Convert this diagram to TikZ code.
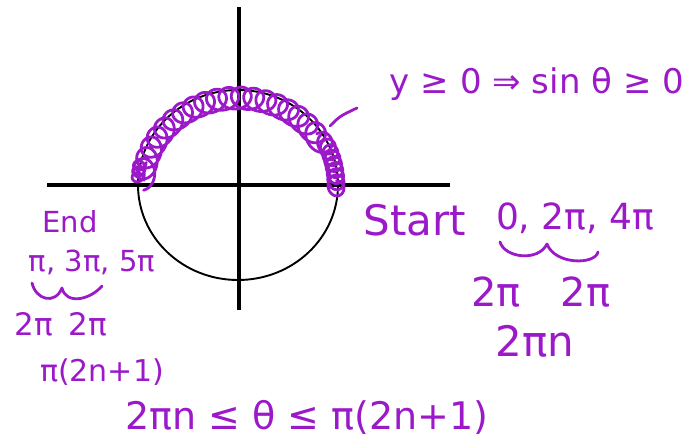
\documentclass[tikz,border=0pt]{standalone}
\usepackage{fontspec}
\setmainfont{DejaVu Sans}
\definecolor{ink}{RGB}{155,25,200}
\begin{document}
\begin{tikzpicture}[x=1pt,y=-1pt,
  hand/.style={text=ink,inner sep=0pt,anchor=center},
  axis/.style={line width=3.4pt,black},
  pen/.style={ink,line width=2.8pt,line cap=round,line join=round}]
\useasboundingbox (0,0) rectangle (695,445);
% axes and circle
\coordinate (O) at (238,185);
\coordinate (xl) at (47,185);
\coordinate (xr) at (450,185);
\coordinate (yt) at (239,7);
\coordinate (yb) at (239,310);
\draw[axis] (xl) -- (xr);
\draw[axis] (yt) -- (yb);
\draw[line width=1.9pt] (O) ellipse[x radius=100,y radius=95];
% coil along upper half: centre path + tangent/normal loops
% right dense part
\draw[pen] plot[domain=0:1,samples=300,smooth]
  ({238+98*cos(-3+30*\x)-9*cos(360*8*\x)*sin(-3+30*\x)+8*sin(360*8*\x)*cos(-3+30*\x)},
   {185-93*sin(-3+30*\x)-9*cos(360*8*\x)*cos(-3+30*\x)-8*sin(360*8*\x)*sin(-3+30*\x)});
% main part
\draw[pen] plot[domain=0:1,samples=700,smooth]
  ({238+95*cos(27+148*\x)-13*cos(360*20*\x)*sin(27+148*\x)+11*sin(360*20*\x)*cos(27+148*\x)},
   {185-87*sin(27+148*\x)-13*cos(360*20*\x)*cos(27+148*\x)-11*sin(360*20*\x)*sin(27+148*\x)});
% left dense end
\draw[pen] plot[domain=0:1,samples=120,smooth]
  ({237+99*cos(168+11*\x)+6*cos(360*3*\x)},{182-94*sin(168+11*\x)+6*sin(360*3*\x)});
% pointer tick
\coordinate (p1) at (330,126);
\coordinate (p2) at (357,108);
\draw[pen] (p1) .. controls (340,116) .. (p2);
% texts
\node[hand,font=\fontsize{34}{34}\selectfont] (cond) at (537,84) {y ≥ 0 ⇒ sin θ ≥ 0};
\node[hand,font=\fontsize{42}{42}\selectfont] (start) at (415,220) {Start};
\node[hand,font=\fontsize{36}{36}\selectfont] (svals) at (575,218) {0, 2π, 4π};
\node[hand,font=\fontsize{40}{40}\selectfont] (sdiff) at (541,292) {2π\hspace{1em}2π};
\node[hand,font=\fontsize{42}{42}\selectfont] (sgen) at (535,341) {2πn};
\node[hand,font=\fontsize{29}{29}\selectfont] (end) at (70,222) {End};
\node[hand,font=\fontsize{29}{29}\selectfont] (evals) at (92,262) {π, 3π, 5π};
\node[hand,font=\fontsize{31}{31}\selectfont] (ediff) at (61,324) {2π\hspace{0.5em}2π};
\node[hand,font=\fontsize{30}{30}\selectfont] (egen) at (102,372) {π(2n+1)};
\node[hand,font=\fontsize{38}{38}\selectfont] (ineq) at (307,417) {2πn ≤ θ ≤ π(2n+1)};
% braces
\coordinate (b1) at (32,283);
\coordinate (b2) at (102,286);
\draw[pen] (b1) .. controls (36,300) and (55,305) .. (62,288)
  .. controls (66,305) and (90,300) .. (b2);
\coordinate (c1) at (500,242);
\coordinate (c2) at (598,252);
\draw[pen] (c1) .. controls (505,258) and (538,262) .. (547,244)
  .. controls (555,265) and (595,265) .. (c2);
\end{tikzpicture}
\end{document}
